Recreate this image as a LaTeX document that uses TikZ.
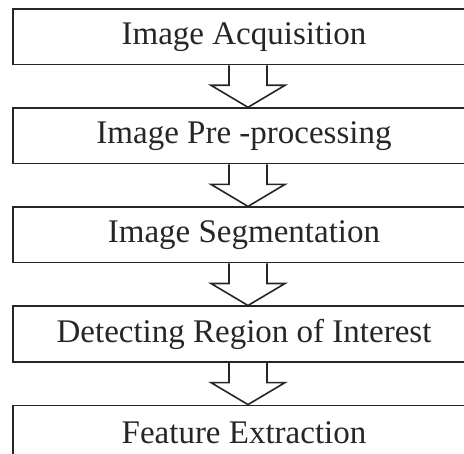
\documentclass[tikz,border=0pt]{standalone}
\usepackage{fontspec}
\setmainfont{Liberation Serif}
\usetikzlibrary{positioning, calc}
\tikzset{
  stagebox/.style={draw=black!85, line width=1.6pt, minimum width=462pt, minimum height=55.5pt,
    inner sep=0pt, font=\fontsize{33}{40}\selectfont, text=black!85},
  hollowarrow/.style={draw=black!85, line width=1.6pt, line join=miter},
}
\begin{document}
\begin{tikzpicture}[x=1pt, y=1pt, node distance=42pt]
    \useasboundingbox (0,0) rectangle (464,-454);
    \clip (0,0) rectangle (464,-454);
    \node[stagebox] (b1) at (244,-36.75) {Image Acquisition};
    \node[stagebox, below=of b1] (b2) {Image Pre -processing};
    \node[stagebox, below=of b2] (b3) {Image Segmentation};
    \node[stagebox, below=of b3] (b4) {Detecting Region of Interest};
    \node[stagebox, below=of b4] (b5) {Feature Extraction};
    % block arrows between the stages
    \foreach \a/\b in {b1/b2, b2/b3, b3/b4, b4/b5} {
      \draw[hollowarrow] ($(\a.south)+(-15,0)$) -- ++(0,-20) -- ++(-18,0)
        -- ($(\b.north)+(4,0)$) -- ($(\a.south)+(41,-20)$) -- ++(-18,0) -- ++(0,20);
    }
\end{tikzpicture}
\end{document}
